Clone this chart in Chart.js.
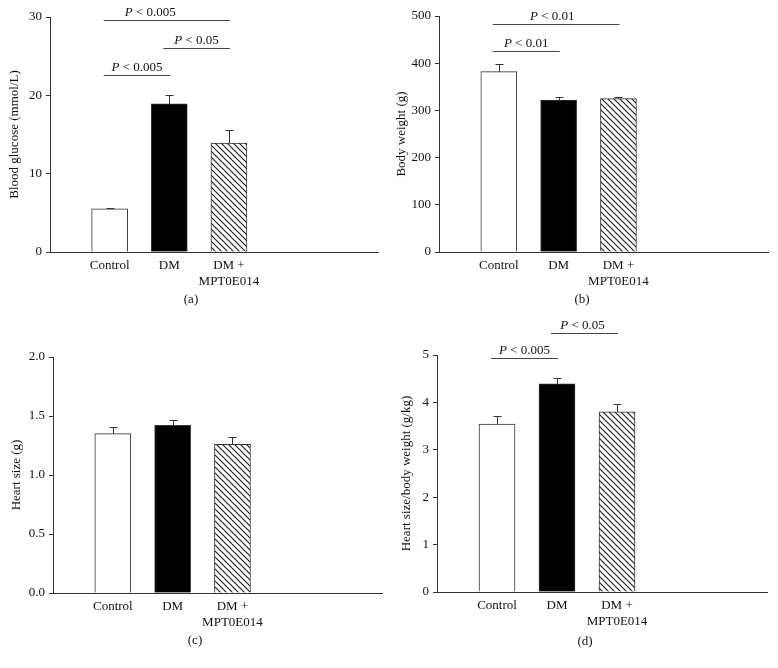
<!DOCTYPE html>
<html>
<head>
<meta charset="utf-8">
<script src="https://cdn.jsdelivr.net/npm/chart.js@4.4.0/dist/chart.umd.min.js"></script>
<style>
  html, body { margin: 0; padding: 0; background: #fff; }
  #fig { position: relative; width: 778px; height: 668px; }
  canvas { position: absolute; }
</style>
</head>
<body>
<div id="fig">
  <canvas id="chartA" width="389" height="312" style="left:0;top:0"></canvas>
  <canvas id="chartB" width="389" height="312" style="left:389px;top:0"></canvas>
  <canvas id="chartC" width="389" height="356" style="left:0;top:312px"></canvas>
  <canvas id="chartD" width="389" height="356" style="left:389px;top:312px"></canvas>
</div>
<script>
const categories = ['Control', 'DM', ['DM +', 'MPT0E014']]

// (a) blood glucose
const glucoseMean = [5.5, 18.9, 13.9]
const glucoseErr = [0.15, 1.1, 1.7]
const glucoseTicks = [0, 10, 20, 30]
const glucoseSig = [
  [0, 2, 29.6, 'P < 0.005', 0.37],
  [1, 2, 26.0, 'P < 0.05', 0.5],
  [0, 1, 22.6, 'P < 0.005', 0.5]
]

// (b) body weight
const weightMean = [382, 322, 325]
const weightErr = [17, 7, 4]
const weightTicks = [0, 100, 200, 300, 400, 500]
const weightSig = [
  [0, 2, 484, 'P < 0.01', 0.47],
  [0, 1, 426, 'P < 0.01', 0.5]
]

// (c) heart size
const heartMean = [1.35, 1.42, 1.26]
const heartErr = [0.06, 0.045, 0.065]
const heartTicks = [0, 0.5, 1.0, 1.5, 2.0]
const heartSig = []

// (d) heart size / body weight
const ratioMean = [3.54, 4.39, 3.80]
const ratioErr = [0.17, 0.12, 0.17]
const ratioTicks = [0, 1, 2, 3, 4, 5]
const ratioSig = [
  [0, 1, 4.93, 'P < 0.005', 0.5],
  [1, 2, 5.46, 'P < 0.05', 0.47]
]

const SERIF = '"Liberation Serif", "DejaVu Serif", serif'
const INK = '#111'
const LINE = '#333'

function makeHatch(ctx) {
  const s = 6
  const tile = document.createElement('canvas')
  tile.width = s
  tile.height = s
  const g = tile.getContext('2d')
  g.fillStyle = '#fff'
  g.fillRect(0, 0, s, s)
  g.strokeStyle = '#222'
  g.lineWidth = 1.2
  g.beginPath()
  g.moveTo(-1, -1); g.lineTo(s + 1, s + 1)
  g.moveTo(-1, s - 1); g.lineTo(1, s + 1)
  g.moveTo(s - 1, -1); g.lineTo(s + 1, 1)
  g.stroke()
  return ctx.createPattern(tile, 'repeat')
}

function makePanel(id, o) {
  const canvas = document.getElementById(id)
  const ctx = canvas.getContext('2d')

  const overlay = {
    id: 'overlay',
    afterDatasetsDraw(chart) {
      const { ctx, scales: { x, y } } = chart
      ctx.save()
      ctx.strokeStyle = LINE
      ctx.lineWidth = 1
      o.values.forEach((v, i) => {
        const px = Math.round(x.getPixelForValue(i + 1)) + 0.5
        const y0 = y.getPixelForValue(v)
        const y1 = Math.round(y.getPixelForValue(v + o.errors[i])) + 0.5
        ctx.beginPath()
        ctx.moveTo(px, y0)
        ctx.lineTo(px, y1)
        ctx.moveTo(px - 4, y1)
        ctx.lineTo(px + 4, y1)
        ctx.stroke()
      })
      ctx.restore()
    },
    afterDraw(chart) {
      const { ctx, scales: { x, y } } = chart
      ctx.save()
      o.sig.forEach(([a, b, val, label, at]) => {
        const x0 = x.getPixelForValue(a + 1) - 6
        const x1 = x.getPixelForValue(b + 1) + 1
        const py = Math.round(y.getPixelForValue(val)) + 0.5
        ctx.strokeStyle = '#444'
        ctx.lineWidth = 1
        ctx.beginPath()
        ctx.moveTo(x0, py)
        ctx.lineTo(x1, py)
        ctx.stroke()

        const rest = label.slice(1)
        ctx.font = 'italic 13px ' + SERIF
        const wP = ctx.measureText('P').width
        ctx.font = '13px ' + SERIF
        const wR = ctx.measureText(rest).width
        const cx = x0 + (x1 - x0) * at
        const tx = cx - (wP + wR) / 2
        ctx.fillStyle = INK
        ctx.textBaseline = 'alphabetic'
        ctx.textAlign = 'left'
        ctx.font = 'italic 13px ' + SERIF
        ctx.fillText('P', tx, py - 4.5)
        ctx.font = '13px ' + SERIF
        ctx.fillText(rest, tx + wP, py - 4.5)
      })
      ctx.font = '13px ' + SERIF
      ctx.fillStyle = INK
      ctx.textAlign = 'center'
      ctx.textBaseline = 'middle'
      ctx.fillText(o.caption, o.captionX, o.captionY)
      ctx.restore()
    }
  }

  return new Chart(ctx, {
    type: 'bar',
    data: {
      datasets: [{
        data: o.values.map((v, i) => ({ x: i + 1, y: v })),
        backgroundColor: ['#ffffff', '#000000', makeHatch(ctx)],
        borderColor: LINE,
        borderWidth: 1,
        barThickness: 36
      }]
    },
    options: {
      responsive: false,
      animation: false,
      layout: { padding: { left: 0, right: o.padRight, top: o.padTop, bottom: 0 } },
      plugins: {
        legend: { display: false },
        tooltip: { enabled: false }
      },
      scales: {
        x: {
          type: 'linear',
          offset: false,
          min: 0,
          max: 5.5,
          grid: { display: false, drawTicks: false },
          border: { display: true, color: LINE, width: 1 },
          afterFit: (s) => { s.height = o.xHeight },
          afterBuildTicks: (s) => { s.ticks = [1, 2, 3].map(v => ({ value: v })) },
          ticks: {
            autoSkip: false,
            maxRotation: 0,
            minRotation: 0,
            padding: 5,
            color: INK,
            font: { family: SERIF, size: 13, lineHeight: 1.25 },
            callback: (v) => categories[v - 1]
          }
        },
        y: {
          min: o.ticks[0],
          max: o.ticks[o.ticks.length - 1],
          afterFit: (s) => { s.width = o.yWidth },
          afterBuildTicks: (s) => { s.ticks = o.ticks.map(v => ({ value: v })) },
          grid: { drawOnChartArea: false, drawTicks: true, tickLength: 4, color: LINE },
          border: { display: true, color: LINE, width: 1 },
          ticks: {
            padding: 4,
            color: INK,
            font: { family: SERIF, size: 13 },
            callback: o.tickFmt || ((v) => v)
          },
          title: {
            display: true,
            text: o.yTitle,
            color: INK,
            font: { family: SERIF, size: 13 },
            padding: { top: o.titlePad, bottom: 0 }
          }
        }
      }
    },
    plugins: [overlay]
  })
}

makePanel('chartA', {
  values: glucoseMean, errors: glucoseErr, ticks: glucoseTicks, sig: glucoseSig,
  yTitle: 'Blood glucose (mmol/L)', caption: '(a)', captionX: 191, captionY: 300,
  yWidth: 50, padRight: 11, padTop: 17, xHeight: 60, titlePad: 7
})

makePanel('chartB', {
  values: weightMean, errors: weightErr, ticks: weightTicks, sig: weightSig,
  yTitle: 'Body weight (g)', caption: '(b)', captionX: 193, captionY: 300,
  yWidth: 50, padRight: 10, padTop: 16, xHeight: 60, titlePad: 5
})

makePanel('chartC', {
  values: heartMean, errors: heartErr, ticks: heartTicks, sig: heartSig,
  yTitle: 'Heart size (g)', caption: '(c)', captionX: 195, captionY: 329,
  yWidth: 53, padRight: 7, padTop: 45, xHeight: 75, titlePad: 9,
  tickFmt: (v) => v.toFixed(1)
})

makePanel('chartD', {
  values: ratioMean, errors: ratioErr, ticks: ratioTicks, sig: ratioSig,
  yTitle: 'Heart size/body weight (g/kg)', caption: '(d)', captionX: 196, captionY: 330,
  yWidth: 48, padRight: 11, padTop: 43, xHeight: 76, titlePad: 10
})
</script>
</body>
</html>
